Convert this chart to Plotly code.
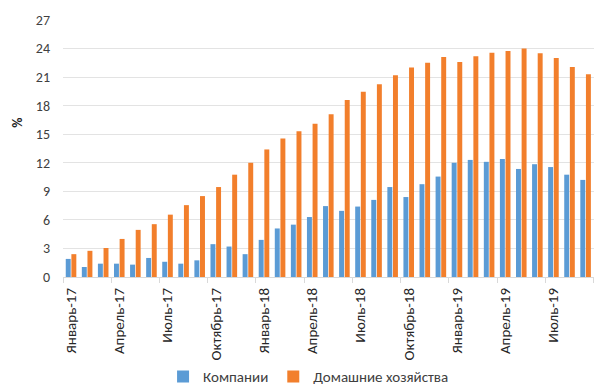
import plotly.graph_objects as go

months = ["Январь-17", "Февраль-17", "Март-17", "Апрель-17", "Май-17", "Июнь-17",
          "Июль-17", "Август-17", "Сентябрь-17", "Октябрь-17", "Ноябрь-17", "Декабрь-17",
          "Январь-18", "Февраль-18", "Март-18", "Апрель-18", "Май-18", "Июнь-18",
          "Июль-18", "Август-18", "Сентябрь-18", "Октябрь-18", "Ноябрь-18", "Декабрь-18",
          "Январь-19", "Февраль-19", "Март-19", "Апрель-19", "Май-19", "Июнь-19",
          "Июль-19", "Август-19", "Сентябрь-19", "Октябрь-19"]

companies = [1.9, 1.05, 1.4, 1.4, 1.3, 2.0, 1.6, 1.4, 1.75, 3.45, 3.2, 2.4,
             3.9, 5.1, 5.5, 6.3, 7.45, 6.95, 7.4, 8.1, 9.45, 8.4, 9.75, 10.55,
             12.0, 12.3, 12.1, 12.4, 11.35, 11.85, 11.55, 10.75, 10.2, 10.4]

households = [2.4, 2.75, 3.05, 4.0, 4.95, 5.55, 6.55, 7.55, 8.5, 9.45, 10.75, 12.0,
              13.4, 14.55, 15.3, 16.1, 17.1, 18.6, 19.45, 20.25, 21.2, 22.0, 22.5, 23.1,
              22.6, 23.2, 23.55, 23.75, 24.0, 23.5, 23.0, 22.05, 21.3, 20.8]

series_names = ["Компании", "Домашние хозяйства"]
y_ticks = [0, 3, 6, 9, 12, 15, 18, 21, 24, 27]

FONT = "Carlito, Lato, sans-serif"

# The page body has an 8px default margin, so the figure is sized to fill the
# remaining 594x377 area of the 602x385 window.
fig = go.Figure()
fig.add_trace(go.Bar(x=months, y=companies, name=series_names[0],
                     marker=dict(color="#5B9BD5", line=dict(width=0))))
fig.add_trace(go.Bar(x=months, y=households, name=series_names[1],
                     marker=dict(color="#F27F2C", line=dict(width=0))))

fig.update_layout(
    width=594, height=377,
    margin=dict(l=55, r=0, t=12, b=108, autoexpand=False),
    paper_bgcolor="white", plot_bgcolor="white",
    barmode="group", bargap=0.30, bargroupgap=0.12,
    font=dict(family=FONT, size=14, color="#404040"),
    legend=dict(orientation="h", xref="container", yref="container",
                x=0.506, y=0.022, xanchor="center", yanchor="middle",
                font=dict(size=15, color="#404040"), itemwidth=30,
                tracegroupgap=0),
    showlegend=True,
)

fig.update_xaxes(
    type="category", range=[-0.5, 33.02], dtick=3, tickangle=-90,
    tickson="boundaries", ticks="outside", ticklen=5, tickcolor="#D9D9D9",
    showline=True, linecolor="#D9D9D9", linewidth=1, automargin=False,
    showgrid=False, tickfont=dict(size=15, color="#262626"), ticklabelstandoff=4,
)
fig.update_yaxes(
    range=[0, 27], tickvals=y_ticks, showgrid=True, gridcolor="#E3E3E3",
    gridwidth=1, zeroline=False, showline=False, ticks="", automargin=False,
    tickfont=dict(size=14, color="#404040"), ticklabelstandoff=12,
)

fig.add_annotation(text="<b>%</b>", xref="paper", yref="paper", x=-0.0835, y=0.6,
                   textangle=-90, showarrow=False, xanchor="center",
                   font=dict(size=14, color="#262626"))

fig.write_html("out.html")
